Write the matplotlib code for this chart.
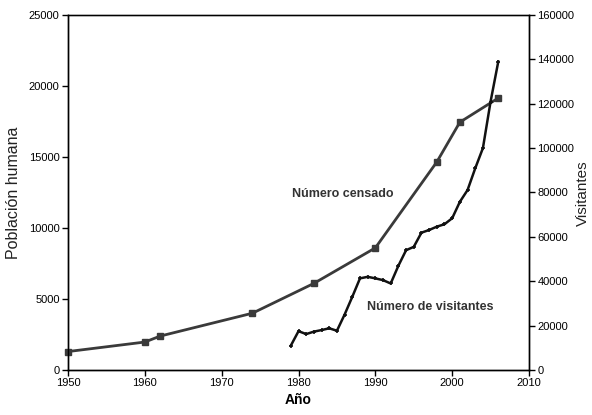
import matplotlib
matplotlib.use("Agg")
import matplotlib.pyplot as plt

plt.rcParams['font.family'] = ['Liberation Sans', 'DejaVu Sans']

# census data (left axis)
census_years = [1950, 1960, 1962, 1974, 1982, 1990, 1998, 2001, 2006]
census_pop = [1300, 1970, 2390, 4000, 6100, 8600, 14650, 17450, 19150]

# visitor data (right axis)
visit_years = list(range(1979, 2007))
visitors = [11000, 17500, 16200, 17300, 18000, 18800, 17700, 25000, 33000,
            41300, 42000, 41300, 40500, 39000, 47000, 54000, 55500, 61900,
            63100, 64600, 65700, 68400, 75800, 81100, 90900, 100000, 121000,
            139000]

x_ticks = [1950, 1960, 1970, 1980, 1990, 2000, 2010]
left_ticks = [0, 5000, 10000, 15000, 20000, 25000]
right_ticks = list(range(0, 160001, 20000))

fig = plt.figure(figsize=(5.92, 4.15), dpi=100)
ax = fig.add_axes([0.1149, 0.1084, 0.7787, 0.8555])
ax2 = ax.twinx()

ax.plot(census_years, census_pop, color='#3a3a3a', linewidth=2,
        marker='s', markersize=5, clip_on=False, zorder=3)
ax2.plot(visit_years, visitors, color='#111111', linewidth=1.8,
         marker='+', markersize=3, markeredgewidth=1.2, clip_on=False)

ax.set_xlim(1950, 2010)
ax.set_ylim(0, 25000)
ax2.set_ylim(0, 160000)
ax.set_xticks(x_ticks)
ax.set_yticks(left_ticks)
ax2.set_yticks(right_ticks)

for a in (ax, ax2):
    a.tick_params(direction='out', length=4, width=1, labelsize=8,
                  colors='black', pad=2)
    for sp in a.spines.values():
        sp.set_color('black')
        sp.set_linewidth(1)
ax.spines['top'].set_color('#555555')

ax.set_xlabel('Año', fontsize=10, fontweight='bold', labelpad=3)
ax.set_ylabel('Población humana', fontsize=11.5, color='#222222', labelpad=6)
# right axis title placed in figure coords so it stays inside the canvas
fig.text(583 / 592, 1 - 193 / 415, 'Visitantes', fontsize=11,
         color='#222222', rotation=90, ha='center', va='center')

ax.text(1979.2, 12400, 'Número censado', fontsize=9, fontweight='bold',
        color='#333333', va='center', ha='left')
ax.text(1988.9, 4450, 'Número de visitantes', fontsize=9, fontweight='bold',
        color='#333333', va='center', ha='left')

fig.savefig('out.png', dpi=100)
